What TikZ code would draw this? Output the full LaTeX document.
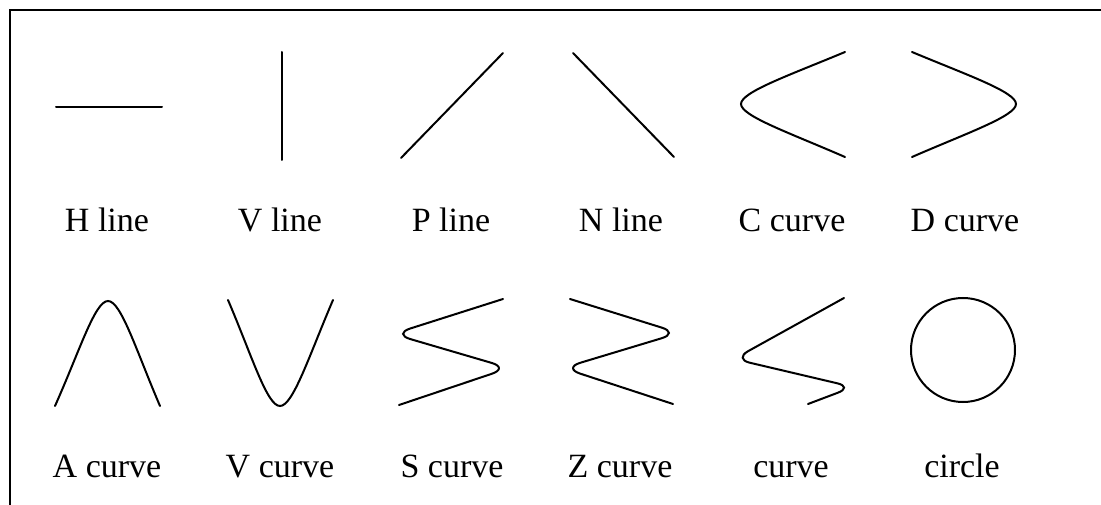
\documentclass[tikz,border=0pt]{standalone}
\usepackage{fontspec}
\setmainfont{Liberation Serif}
\usetikzlibrary{positioning}

\begin{document}
\begin{tikzpicture}[x=1pt,y=-1pt]
\tikzstyle{lbl}=[font=\fontsize{34}{40}\selectfont,anchor=base,inner sep=0pt]
\tikzstyle{shp}=[line width=2pt,line cap=round]
\useasboundingbox (0,0) rectangle (1101,505);
% frame (top and left edge only)
\draw[line width=2.2pt] (1101,10) -- (10,10) -- (10,505);
% first row
\draw[shp] (56,107) -- (162,107);
\draw[shp] (282,52) -- (282,160);
\draw[shp] (401,158) -- (503,53);
\draw[shp] (573,53) -- (674,157);
\draw[shp] (845,52) .. controls (790,75) and (741,92) .. (741,104) .. controls (741,116) and (790,133) .. (845,157);
\draw[shp] (912,52) .. controls (967,75) and (1016,92) .. (1016,104) .. controls (1016,116) and (967,133) .. (912,157);
% second row
\draw[shp] (55,406) .. controls (80,350) and (95,301) .. (108,301) .. controls (121,301) and (136,350) .. (160,406);
\draw[shp] (228,300) .. controls (252,356) and (267,406) .. (280,406) .. controls (293,406) and (309,356) .. (333,300);
\draw[shp,rounded corners=18pt] (503,299) -- (393,334) -- (509,368) -- (399,405);
\draw[shp,rounded corners=18pt] (570,299) -- (679,333) -- (563,368) -- (673,404);
\draw[shp,rounded corners=16pt] (844,298) -- (734,359) -- (853,387) -- (808,404);
\draw[shp] (963,350) circle (52);
% labels
\foreach \n/\x/\y/\t in {1/107/232/H line,2/280/232/V line,3/451/232/P line,4/621/232/N line,5/792/232/C curve,6/965/232/D curve,
  7/107/477/A curve,8/280/477/V curve,9/452/477/S curve,10/620/477/Z curve,11/791/477/curve,12/962/477/circle}
 \node[lbl] (l\n) at (\x,\y) {\t};
\end{tikzpicture}
\end{document}
